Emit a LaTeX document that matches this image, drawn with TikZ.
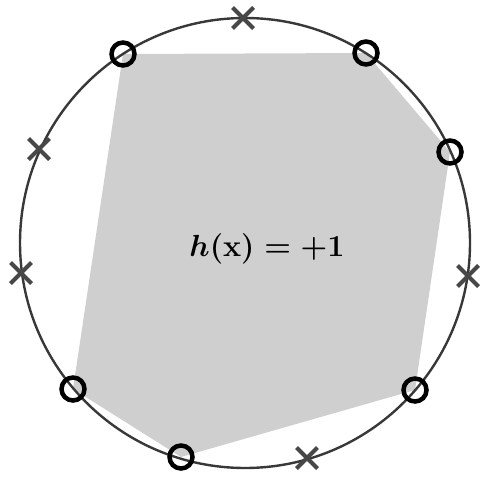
\RequirePackage{fix-cm}
\documentclass[tikz,border=0pt]{standalone}
\usepackage{amsmath}
\begin{document}
\begin{tikzpicture}[x=1pt,y=-1pt,
  ring/.style={draw=black!78, line width=2.4pt},
  region/.style={fill=black!19, draw=none},
  omark/.style={circle, draw=black, line width=4.5pt, minimum size=23pt, inner sep=0pt},
  xmark/.style={draw=black!72, line width=4pt},
  lbl/.style={font=\fontsize{30.5}{36}\selectfont\boldmath}]
\useasboundingbox (0,0) rectangle (489,479);
\coordinate (c) at (245,243);
\coordinate (o1) at (123,54);
\coordinate (o2) at (366,53);
\coordinate (o3) at (450,152);
\coordinate (o4) at (415,390);
\coordinate (o5) at (181,457);
\coordinate (o6) at (73,389);
\fill[region] (o1) -- (o2) -- (o3) -- (o4) -- (o5) -- (o6) -- cycle;
\draw[ring] (c) circle (225);
\node[lbl] (h) at (267,249) {$h(\mathbf{x})=+1$};
\foreach \p in {o1,o2,o3,o4,o5,o6} \node[omark] at (\p) {};
\foreach \n/\px/\py in {x1/243/18, x2/39/149, x3/21/273, x4/468/276, x5/307/458} {
  \coordinate (\n) at (\px,\py);
  \draw[xmark] ([shift={(-10.5,-10.5)}]\n) -- ([shift={(10.5,10.5)}]\n);
  \draw[xmark] ([shift={(-10.5,10.5)}]\n) -- ([shift={(10.5,-10.5)}]\n);
}
\end{tikzpicture}
\end{document}
